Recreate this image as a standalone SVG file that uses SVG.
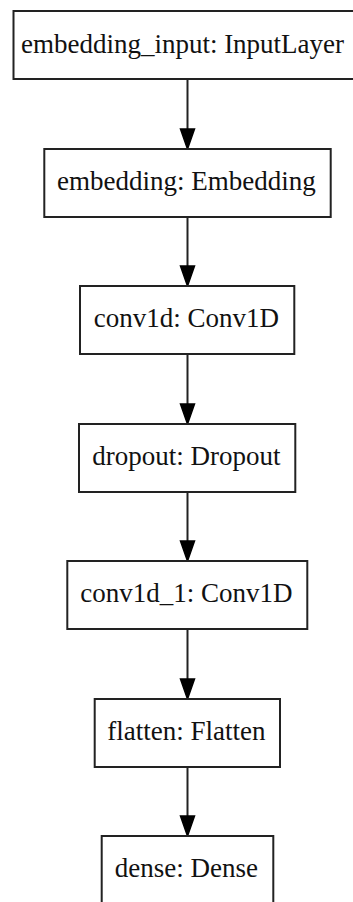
<svg xmlns="http://www.w3.org/2000/svg" width="353" height="902" viewBox="0 0 353 902">
<defs>
<style>
.box{fill:#fff;stroke:#222;stroke-width:2}
.lbl{font-family:"Liberation Serif","Times New Roman",serif;font-size:27px;fill:#111;text-anchor:middle}
.edge{stroke:#222;stroke-width:2;fill:none}
.head{fill:#000;stroke:#000;stroke-width:1.5}
</style>
</defs>
<rect width="353" height="902" fill="#fff"/>
<g id="connectors">
<line class="edge" x1="187.5" y1="79" x2="187.5" y2="130"/><polygon class="head" points="180.5,129 194.5,129 187.5,149"/>
<line class="edge" x1="187.5" y1="217" x2="187.5" y2="267"/><polygon class="head" points="180.5,266 194.5,266 187.5,286"/>
<line class="edge" x1="187.5" y1="354" x2="187.5" y2="405"/><polygon class="head" points="180.5,404 194.5,404 187.5,424"/>
<line class="edge" x1="187.5" y1="492" x2="187.5" y2="542"/><polygon class="head" points="180.5,541 194.5,541 187.5,561"/>
<line class="edge" x1="187.5" y1="629" x2="187.5" y2="680"/><polygon class="head" points="180.5,679 194.5,679 187.5,699"/>
<line class="edge" x1="187.5" y1="767" x2="187.5" y2="817"/><polygon class="head" points="180.5,816 194.5,816 187.5,836"/>
</g>
<g id="embedding_input"><rect class="box" x="13.5" y="11" width="349" height="68"/><text class="lbl" x="182.5" y="53">embedding_input: InputLayer</text></g>
<g id="embedding"><rect class="box" x="44.3" y="149" width="286.4" height="68"/><text class="lbl" x="186.3" y="190">embedding: Embedding</text></g>
<g id="conv1d"><rect class="box" x="80" y="286" width="214.3" height="68"/><text class="lbl" x="186.3" y="327">conv1d: Conv1D</text></g>
<g id="dropout"><rect class="box" x="79" y="424" width="216.3" height="68"/><text class="lbl" x="186.3" y="465">dropout: Dropout</text></g>
<g id="conv1d_1"><rect class="box" x="67.3" y="561" width="240" height="68"/><text class="lbl" x="186.3" y="602">conv1d_1: Conv1D</text></g>
<g id="flatten"><rect class="box" x="94.7" y="699" width="185.3" height="68"/><text class="lbl" x="186.3" y="740">flatten: Flatten</text></g>
<g id="dense"><rect class="box" x="101.7" y="836" width="171.6" height="68"/><text class="lbl" x="186.3" y="877">dense: Dense</text></g>
</svg>
